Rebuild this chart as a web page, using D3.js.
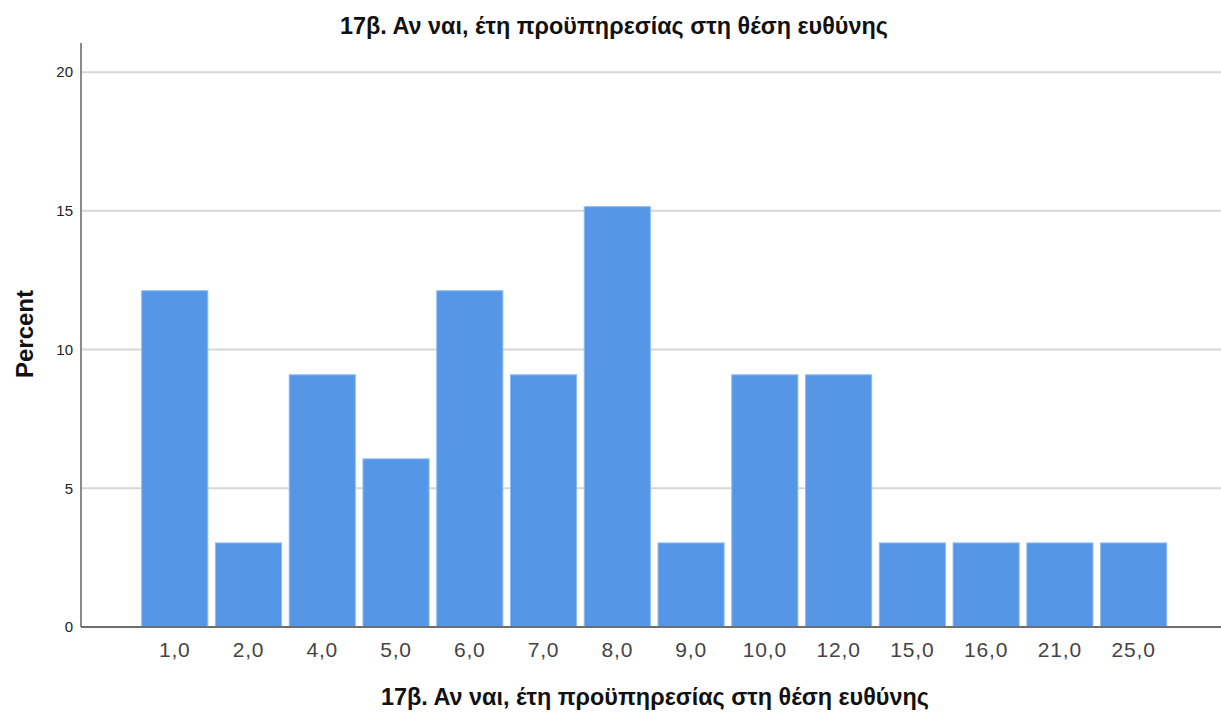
<!DOCTYPE html>
<html>
<head>
<meta charset="utf-8">
<script src="https://cdn.jsdelivr.net/npm/d3@7"></script>
<style>
  html, body { margin: 0; padding: 0; background: #fff; }
  svg { display: block; font-family: "Liberation Sans", Arial, sans-serif; }
</style>
</head>
<body>
<svg id="chart" width="1221" height="713"></svg>
<script>
// Years of service in the post of responsibility (n = 33), percent of respondents
const categories = ["1,0", "2,0", "4,0", "5,0", "6,0", "7,0", "8,0", "9,0", "10,0", "12,0", "15,0", "16,0", "21,0", "25,0"];
const percents = [12.12, 3.03, 9.09, 6.06, 12.12, 9.09, 15.15, 3.03, 9.09, 9.09, 3.03, 3.03, 3.03, 3.03];
const yTicks = [0, 5, 10, 15, 20];
const titleText = "17β. Αν ναι, έτη προϋπηρεσίας στη θέση ευθύνης";
const yAxisTitle = "Percent";

const svg = d3.select("#chart");
const plot = { left: 81, right: 1221, top: 43, bottom: 627 };

const x = d3.scaleBand()
  .domain(categories)
  .range([141.7, 1166.7])
  .paddingInner(0.104)
  .paddingOuter(0);

const y = d3.scaleLinear()
  .domain([0, 21.05])
  .range([plot.bottom, plot.top]);

// horizontal gridlines
svg.append("g")
  .selectAll("line")
  .data(yTicks.filter(d => d > 0))
  .join("line")
  .attr("x1", plot.left)
  .attr("x2", plot.right)
  .attr("y1", d => y(d))
  .attr("y2", d => y(d))
  .attr("stroke", "#d6d6d6")
  .attr("stroke-width", 2);

// bars
svg.append("g")
  .selectAll("rect")
  .data(categories.map((c, i) => ({ c, v: percents[i] })))
  .join("rect")
  .attr("x", d => x(d.c))
  .attr("width", x.bandwidth())
  .attr("y", d => y(d.v))
  .attr("height", d => y(0) - y(d.v))
  .attr("fill", "#5596e6")
  .attr("stroke", "#8dbaf0")
  .attr("stroke-width", 1);

// y axis
const yAxis = d3.axisLeft(y).tickValues(yTicks).tickSize(0).tickPadding(8).tickFormat(d3.format("d"));
const gy = svg.append("g")
  .attr("transform", `translate(${plot.left},0)`)
  .call(yAxis);
gy.select(".domain").remove();
gy.selectAll("text")
  .attr("font-size", 15)
  .attr("fill", "#222")
  .attr("font-family", "Liberation Sans, Arial, sans-serif");
svg.append("line")
  .attr("x1", plot.left).attr("x2", plot.left)
  .attr("y1", plot.top).attr("y2", plot.bottom)
  .attr("stroke", "#8a8a8a").attr("stroke-width", 2);

// x axis
const xAxis = d3.axisBottom(x).tickSize(0).tickPadding(15);
const gx = svg.append("g")
  .attr("transform", `translate(0,${plot.bottom})`)
  .call(xAxis);
gx.select(".domain").remove();
gx.selectAll("text")
  .attr("font-size", 21)
  .attr("letter-spacing", 0.8)
  .attr("fill", "#444")
  .attr("font-family", "Liberation Sans, Arial, sans-serif");
svg.append("line")
  .attr("x1", plot.left).attr("x2", plot.right)
  .attr("y1", plot.bottom).attr("y2", plot.bottom)
  .attr("stroke", "#6e6e6e").attr("stroke-width", 2);

// titles
svg.append("text")
  .attr("x", 614).attr("y", 34)
  .attr("text-anchor", "middle")
  .attr("font-size", 23.4).attr("font-weight", "bold").attr("fill", "#111")
  .text(titleText);

svg.append("text")
  .attr("x", 655).attr("y", 705)
  .attr("text-anchor", "middle")
  .attr("font-size", 23.4).attr("font-weight", "bold").attr("fill", "#111")
  .text(titleText);

svg.append("text")
  .attr("transform", "translate(33,334) rotate(-90)")
  .attr("text-anchor", "middle")
  .attr("font-size", 24).attr("font-weight", "bold").attr("fill", "#111")
  .text(yAxisTitle);
</script>
</body>
</html>
